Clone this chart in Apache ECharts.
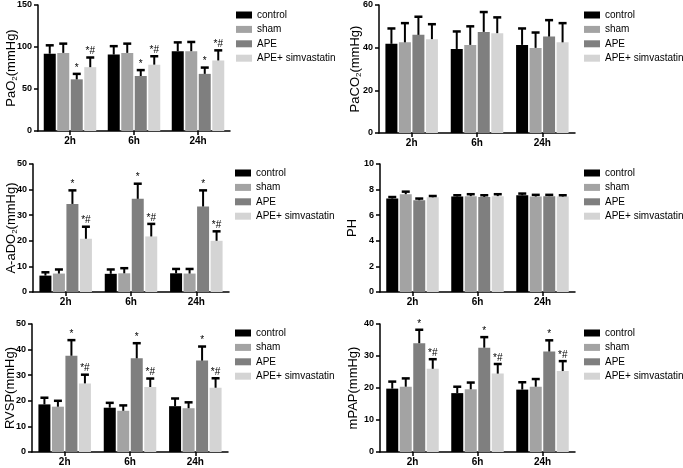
<!DOCTYPE html>
<html><head><meta charset="utf-8">
<script src="https://cdn.jsdelivr.net/npm/echarts@6/dist/echarts.min.js"></script>
<style>html,body{margin:0;padding:0;background:#fff}#c{width:683px;height:468px}</style>
</head><body><div id="c"></div>
<script>
// ---------- data ----------
const categories = ['2h', '6h', '24h'];
const groups = ['control', 'sham', 'APE', 'APE+ simvastatin'];
const marks = ['', '', '*', '*#'];

// rows: control, sham, APE, APE+ simvastatin ; columns: 2h, 6h, 24h
const pao2Means = [[92, 91, 95], [93, 93, 95], [61.5, 65.5, 68], [76, 79, 84]];
const pao2Errors = [[10, 10, 10.5], [11, 11, 11], [6.5, 7, 7.5], [11.5, 10, 12]];

const paco2Means = [[41.8, 39.4, 41.3], [42.5, 41.3, 39.9], [46, 47.4, 45.2], [44, 46.8, 42.5]];
const paco2Errors = [[7.2, 8.2, 7.7], [9, 8.7, 7.2], [8.5, 9.3, 7.7], [7, 7.4, 9]];

const aado2Means = [[6.4, 7.1, 7.3], [7.2, 7.3, 7.2], [34.4, 36.4, 33.4], [20.8, 21.7, 20]];
const aado2Errors = [[1.3, 1.7, 1.7], [1.6, 2, 1.8], [5.3, 5.9, 6.3], [4.7, 4.9, 3.7]];

const phMeans = [[7.3, 7.46, 7.56], [7.64, 7.49, 7.46], [7.17, 7.43, 7.49], [7.4, 7.49, 7.46]];
const phErrors = [[0.12, 0.1, 0.13], [0.2, 0.15, 0.13], [0.13, 0.13, 0.1], [0.1, 0.15, 0.1]];

const rvspMeans = [[18.6, 17.3, 17.9], [17.7, 16.1, 17.1], [37.6, 36.6, 35.7], [26.8, 25.4, 25.1]];
const rvspErrors = [[2.6, 1.9, 3], [2.3, 2.1, 2.3], [6.1, 5.9, 5.5], [3.4, 3.3, 3.7]];

const mpapMeans = [[19.8, 18.4, 19.5], [20.4, 19.6, 20.4], [34, 32.6, 31.4], [26, 24.5, 25.3]];
const mpapErrors = [[2.2, 2, 2.3], [2.6, 2.1, 2.4], [4.2, 3.3, 3.5], [3, 3, 3.1]];

// y axis ticks: [min, max, interval]
const pao2Ticks = [0, 150, 50];
const paco2Ticks = [0, 60, 20];
const aado2Ticks = [0, 50, 10];
const phTicks = [0, 10, 2];
const rvspTicks = [0, 50, 10];
const mpapTicks = [0, 40, 10];

// ---------- layout / style ----------
const FONT = '"Liberation Sans", Arial, Helvetica, sans-serif';
const colors = ['#000000', '#a3a3a3', '#7f7f7f', '#d4d4d4'];
const BAR_W = 12, GAP = 1.5, PITCH = BAR_W + GAP;

const panels = [
  {name: '{n|PaO}{s|2}{n|(mmHg)}', means: pao2Means, errs: pao2Errors, ticks: pao2Ticks, marks: true,
   grid: {left: 38, top: 5, width: 192, height: 126}, gap: 19, legend: {left: 231, top: 4}},
  {name: '{n|PaCO}{s|2}{n|(mmHg)}', means: paco2Means, errs: paco2Errors, ticks: paco2Ticks, marks: false,
   grid: {left: 379, top: 5, width: 196, height: 128}, gap: 16, legend: {left: 579, top: 4}},
  {name: '{n|A-aDO}{s|2}{n|(mmHg)}', means: aado2Means, errs: aado2Errors, ticks: aado2Ticks, marks: true,
   grid: {left: 33, top: 164, width: 196, height: 128}, gap: 14, legend: {left: 230, top: 162}},
  {name: '{n|PH}', means: phMeans, errs: phErrors, ticks: phTicks, marks: false,
   grid: {left: 380, top: 164, width: 195, height: 128}, gap: 20, legend: {left: 579, top: 162}},
  {name: '{n|RVSP(mmHg)}', means: rvspMeans, errs: rvspErrors, ticks: rvspTicks, marks: true,
   grid: {left: 32, top: 324, width: 196, height: 128}, gap: 14, legend: {left: 230, top: 322}},
  {name: '{n|mPAP(mmHg)}', means: mpapMeans, errs: mpapErrors, ticks: mpapTicks, marks: true,
   grid: {left: 380, top: 324, width: 195, height: 128}, gap: 19, legend: {left: 579, top: 322}}
];

function errRender(gi, mark) {
  return function (params, api) {
    const ci = api.value(0), v = api.value(1), e = api.value(2);
    const base = api.coord([ci, v]);
    const top = api.coord([ci, v + e]);
    const x = base[0] + (gi - 1.5) * PITCH;
    const cap = 4;
    const children = [
      {type: 'line', shape: {x1: x, y1: base[1], x2: x, y2: top[1]}, style: {stroke: '#000', lineWidth: 2}},
      {type: 'line', shape: {x1: x - cap, y1: top[1], x2: x + cap, y2: top[1]}, style: {stroke: '#000', lineWidth: 2.5}}
    ];
    if (mark) {
      children.push({type: 'text', style: {text: mark, x: x, y: top[1] - 1,
        textAlign: 'center', align: 'center', textVerticalAlign: 'bottom', verticalAlign: 'bottom',
        fontSize: 10, fontFamily: FONT, fill: '#000'}});
    }
    return {type: 'group', children: children};
  };
}

const option = {
  animation: false,
  backgroundColor: '#fff',
  grid: [], xAxis: [], yAxis: [], legend: [], series: []
};

panels.forEach((p, pi) => {
  option.grid.push(Object.assign({outerBoundsMode: 'none', containLabel: false}, p.grid));
  option.xAxis.push({
    type: 'category', gridIndex: pi, data: categories,
    axisLine: {show: true, lineStyle: {color: '#000', width: 1.5}},
    axisTick: {show: true, alignWithLabel: true, length: 4, lineStyle: {color: '#000', width: 1.5}},
    axisLabel: {color: '#000', fontFamily: FONT, fontWeight: 'bold', fontSize: 10, margin: 5},
    splitLine: {show: false}
  });
  option.yAxis.push({
    type: 'value', gridIndex: pi, min: p.ticks[0], max: p.ticks[1], interval: p.ticks[2],
    name: p.name, nameLocation: 'middle', nameGap: p.gap, nameRotate: 90, nameMoveOverlap: false,
    nameTextStyle: {rich: {
      n: {fontSize: 13, fontFamily: FONT, color: '#000', lineHeight: 16, verticalAlign: 'middle'},
      s: {fontSize: 8, fontFamily: FONT, color: '#000', lineHeight: 16, verticalAlign: 'bottom'}
    }},
    axisLine: {show: true, lineStyle: {color: '#000', width: 1.5}},
    axisTick: {show: true, length: 4, lineStyle: {color: '#000', width: 1.5}},
    axisLabel: {color: '#000', fontFamily: FONT, fontWeight: 'bold', fontSize: 9, margin: 6},
    splitLine: {show: false}
  });
  option.legend.push({
    data: groups, orient: 'vertical', left: p.legend.left, top: p.legend.top,
    itemWidth: 16, itemHeight: 7, itemGap: 2.4, icon: 'rect', selectedMode: false,
    textStyle: {fontFamily: FONT, fontSize: 10, color: '#000', lineHeight: 12}
  });
  groups.forEach((g, gi) => {
    option.series.push({
      type: 'bar', name: g, xAxisIndex: pi, yAxisIndex: pi,
      data: p.means[gi], barWidth: BAR_W, barGap: (GAP / BAR_W * 100) + '%',
      itemStyle: {color: colors[gi]}, silent: true
    });
  });
  groups.forEach((g, gi) => {
    option.series.push({
      type: 'custom', name: g + ' err', xAxisIndex: pi, yAxisIndex: pi,
      data: categories.map((c, ci) => [ci, p.means[gi][ci], p.errs[gi][ci]]),
      encode: {x: 0, y: 1},
      renderItem: errRender(gi, p.marks ? marks[gi] : ''), z: 5, silent: true
    });
  });
});

const chart = echarts.init(document.getElementById('c'), null, {renderer: 'canvas'});
chart.setOption(option);
</script>
</body></html>
